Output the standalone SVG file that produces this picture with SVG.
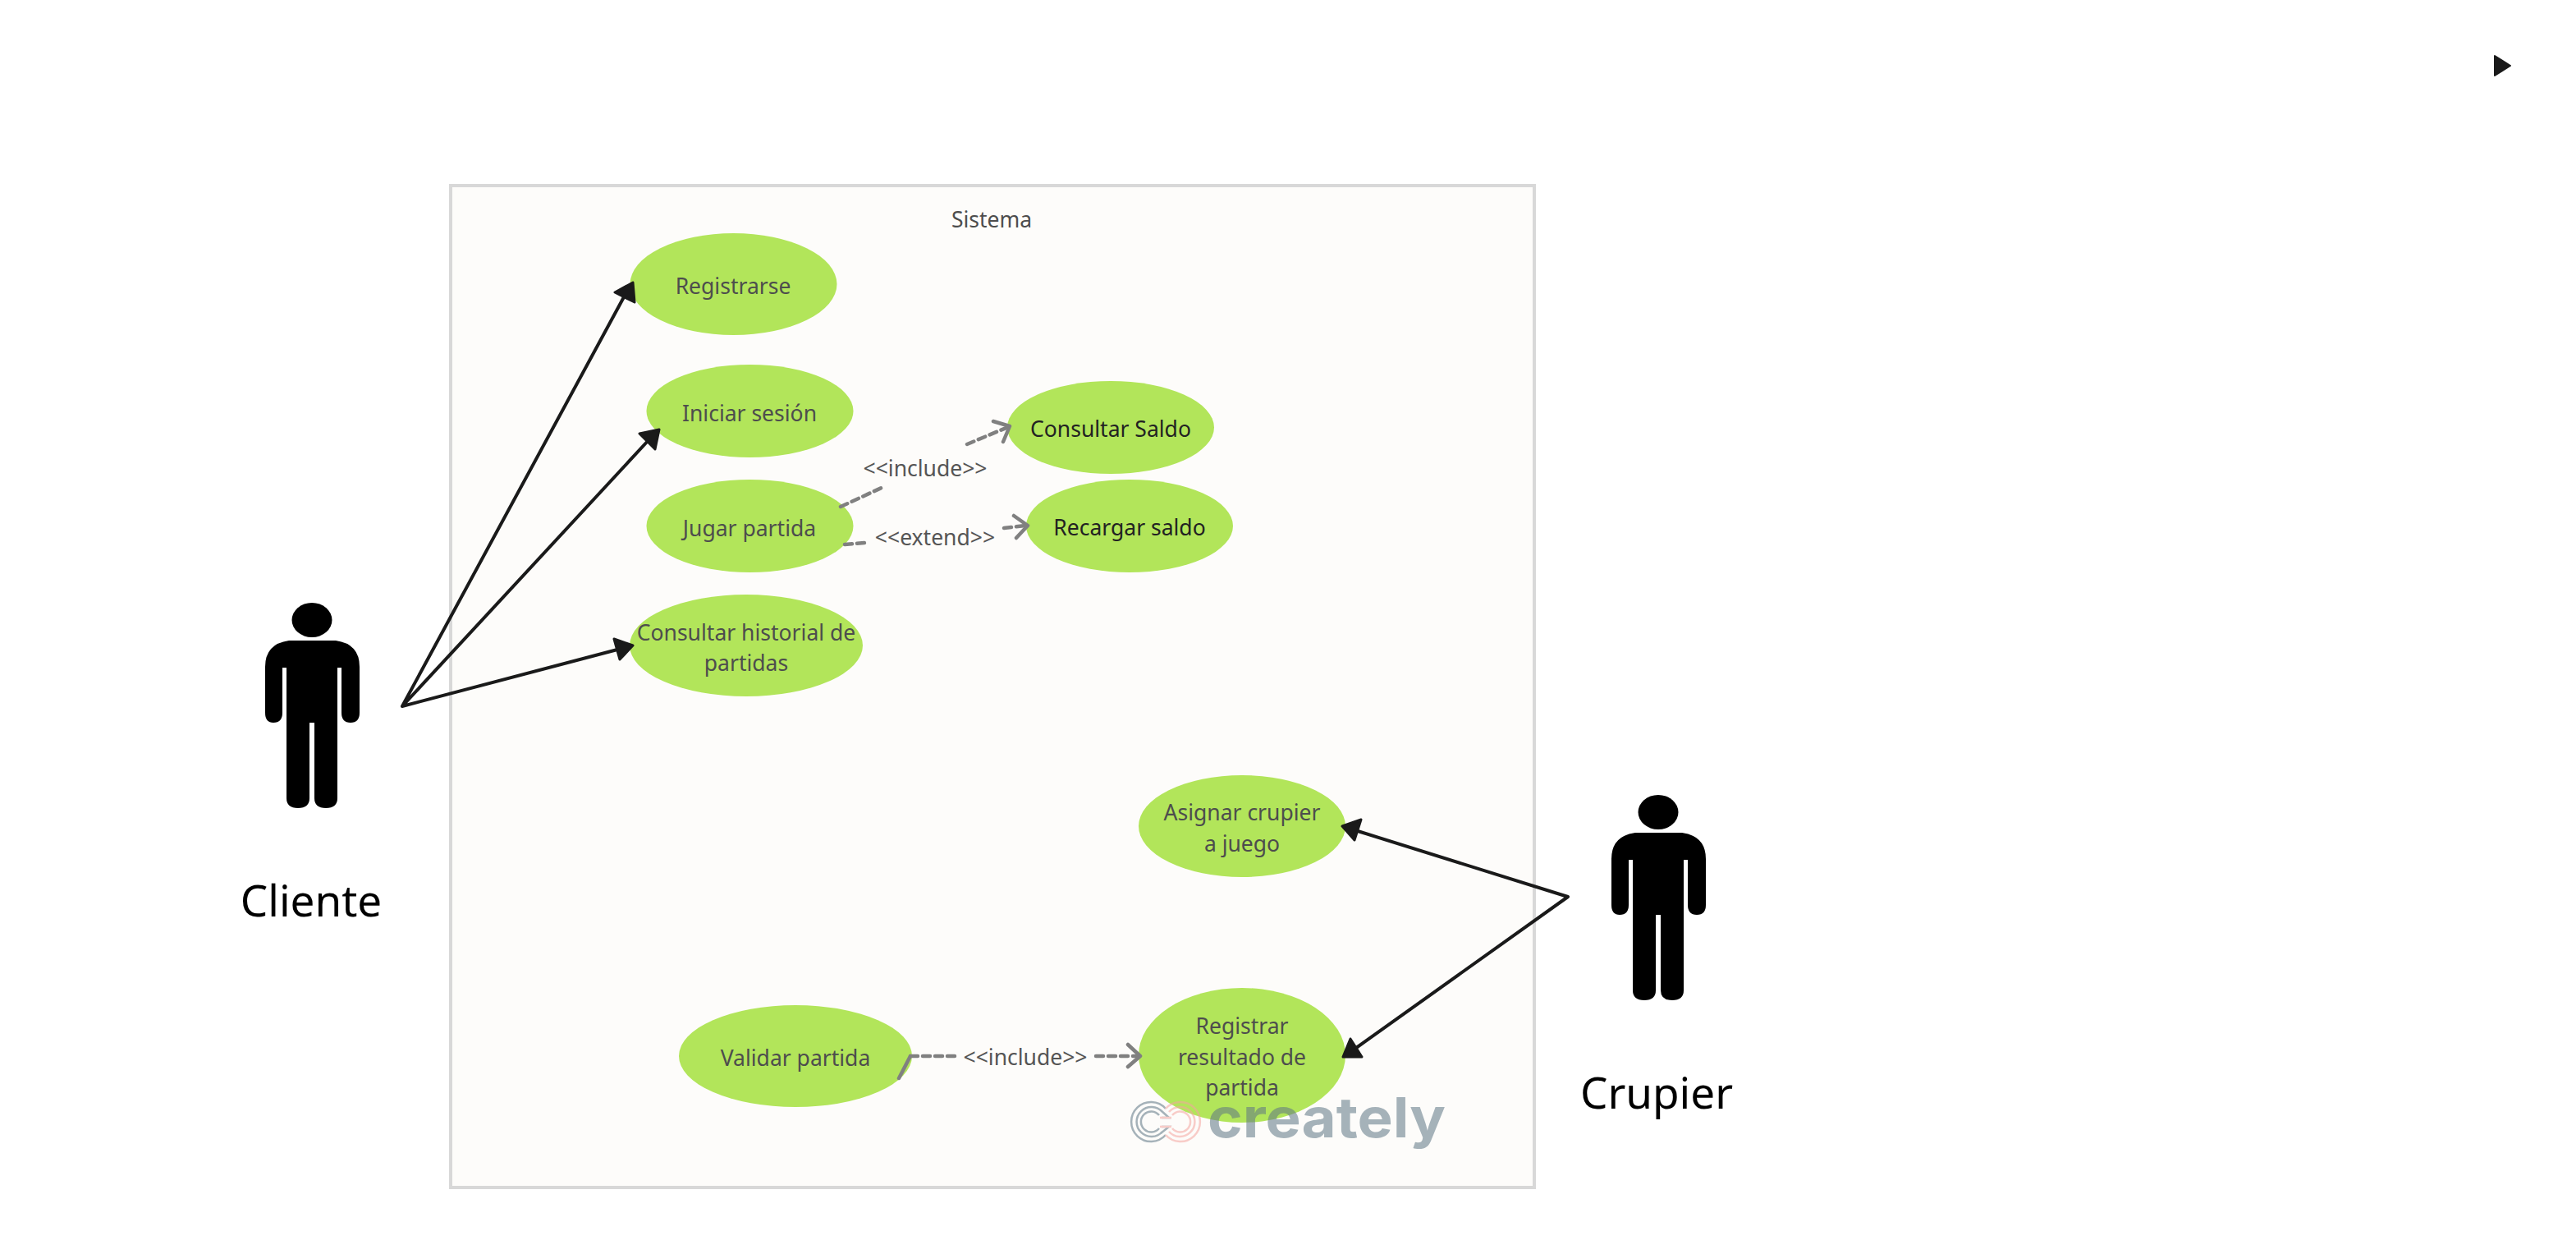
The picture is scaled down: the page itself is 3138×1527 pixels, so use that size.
<svg xmlns="http://www.w3.org/2000/svg" width="3138" height="1527" viewBox="0 0 3138 1527">
<style>
text{font-family:"Noto Sans","Open Sans",sans-serif;text-anchor:middle}
.uc{fill:#b2e55a}
.t{font-size:26.5px;fill:#4d4d4d}
.d{fill:#222}
.l{font-size:26.5px;fill:#555}
.a{font-size:53px;fill:#000}
.s{fill:none;stroke:#1a1a1a;stroke-width:4;stroke-linecap:round}
.h{fill:#1a1a1a;stroke:#1a1a1a;stroke-width:3;stroke-linejoin:round}
.g{fill:none;stroke:#808080;stroke-width:4.500;stroke-dasharray:9 6;stroke-linecap:round}
.o{fill:none;stroke:#808080;stroke-width:4.500;stroke-linecap:round;stroke-linejoin:round}
</style>
<defs>
<g id="person">
<ellipse cx="380" cy="755" rx="24.500" ry="21"/>
<path d="M352 780H409Q438 784 438 812V868Q438 880 427 880Q416 880 416 868V813H411V972Q411 984 397 984Q383 984 383 972V880H377V972Q377 984 363 984Q349 984 349 972V813H344V868Q344 880 333 880Q323 880 323 868V812Q323 784 352 780Z"/>
</g>
</defs>
<rect width="3138" height="1527" fill="#fff"/>
<path id="play" d="M3039 68L3058 80L3039 92Z" fill="#1a1a1a" stroke="#1a1a1a" stroke-width="2" stroke-linejoin="round"/>
<g id="sistema">
<rect x="549" y="226" width="1320" height="1220" fill="#fdfcfa" stroke="#d8d8d8" stroke-width="4"/>
<text class="t" x="1208" y="277">Sistema</text>
</g>
<g id="registrarse"><ellipse class="uc" cx="893.500" cy="346" rx="126" ry="62"/><text class="t" x="893" y="358">Registrarse</text></g>
<g id="iniciar"><ellipse class="uc" cx="913.500" cy="500.500" rx="126" ry="56.500"/><text class="t" x="913" y="512.500">Iniciar sesión</text></g>
<g id="jugar"><ellipse class="uc" cx="913.500" cy="640.500" rx="126" ry="56.500"/><text class="t" x="913" y="652.500">Jugar partida</text></g>
<g id="consultar-saldo"><ellipse class="uc" cx="1353" cy="520.500" rx="126" ry="56.500"/><text class="t d" x="1353" y="532">Consultar Saldo</text></g>
<g id="recargar"><ellipse class="uc" cx="1376" cy="640.500" rx="126" ry="56.500"/><text class="t d" x="1376" y="652">Recargar saldo</text></g>
<g id="historial"><ellipse class="uc" cx="909" cy="786" rx="142" ry="62"/><text class="t" x="909" y="780">Consultar historial de</text><text class="t" x="909" y="817">partidas</text></g>
<g id="asignar"><ellipse class="uc" cx="1513" cy="1006" rx="126" ry="62"/><text class="t" x="1513" y="999">Asignar crupier</text><text class="t" x="1513" y="1037">a juego</text></g>
<g id="validar"><ellipse class="uc" cx="969" cy="1286" rx="142" ry="62"/><text class="t" x="969" y="1298">Validar partida</text></g>
<g id="registrar-resultado"><ellipse class="uc" cx="1513" cy="1285" rx="126" ry="82"/><text class="t" x="1513" y="1259">Registrar</text><text class="t" x="1513" y="1297">resultado de</text><text class="t" x="1513" y="1334">partida</text></g>
<g id="cliente"><use href="#person"/><text class="a" x="379" y="1116">Cliente</text></g>
<g id="crupier"><use href="#person" x="1640" y="234"/><text class="a" x="2018" y="1350">Crupier</text></g>
<g id="connectors">
<path class="s" d="M490 860L762 358M490 860L790 536M490 860L752 791M1910 1092L1654 1012M1910 1092L1652 1276"/>
<path class="h" d="M771 344L749 356L773 368ZM803 523L779 528L798 547ZM771 786L748 778L755 803ZM1635 1006L1658 998L1650 1023ZM1636 1287L1645 1265L1659 1287Z"/>
<path class="g" d="M1024 617L1076 593M1178 541L1228 520M1029 663L1054 661M1223 643L1250 640M1109 1286H1163M1335 1286H1387"/>
<path class="o" d="M1095 1313L1109 1286M1210 513L1230 519L1222 538M1235 628L1252 640L1238 655M1374 1272L1389 1286L1374 1299"/>
<text class="l" x="1127" y="580">&lt;&lt;include&gt;&gt;</text>
<text class="l" x="1139" y="664">&lt;&lt;extend&gt;&gt;</text>
<text class="l" x="1249" y="1297">&lt;&lt;include&gt;&gt;</text>
</g>
<g id="watermark" opacity="0.55">
<path fill="none" stroke="#5f7684" stroke-width="2.500" d="M1420 1350A24 24 0 1 0 1420 1382M1416 1354A18 18 0 1 0 1416 1378M1412 1358A12.500 12.500 0 1 0 1412 1374M1414 1352L1424 1361L1415 1361M1414 1380L1424 1372L1415 1372"/>
<path fill="none" stroke="#f5a5a0" stroke-width="2.500" d="M1420 1350A24 24 0 1 1 1420 1382M1424 1354A18 18 0 1 1 1424 1378M1428 1358A12.500 12.500 0 1 1 1428 1374M1413 1361H1427M1413 1372H1427"/>
<text x="1471" y="1385" textLength="290" lengthAdjust="spacingAndGlyphs" style="font-family:Inter,'Liberation Sans',sans-serif;font-weight:700;font-size:67px;text-anchor:start;fill:#5f7684">creately</text>
</g>
</svg>
